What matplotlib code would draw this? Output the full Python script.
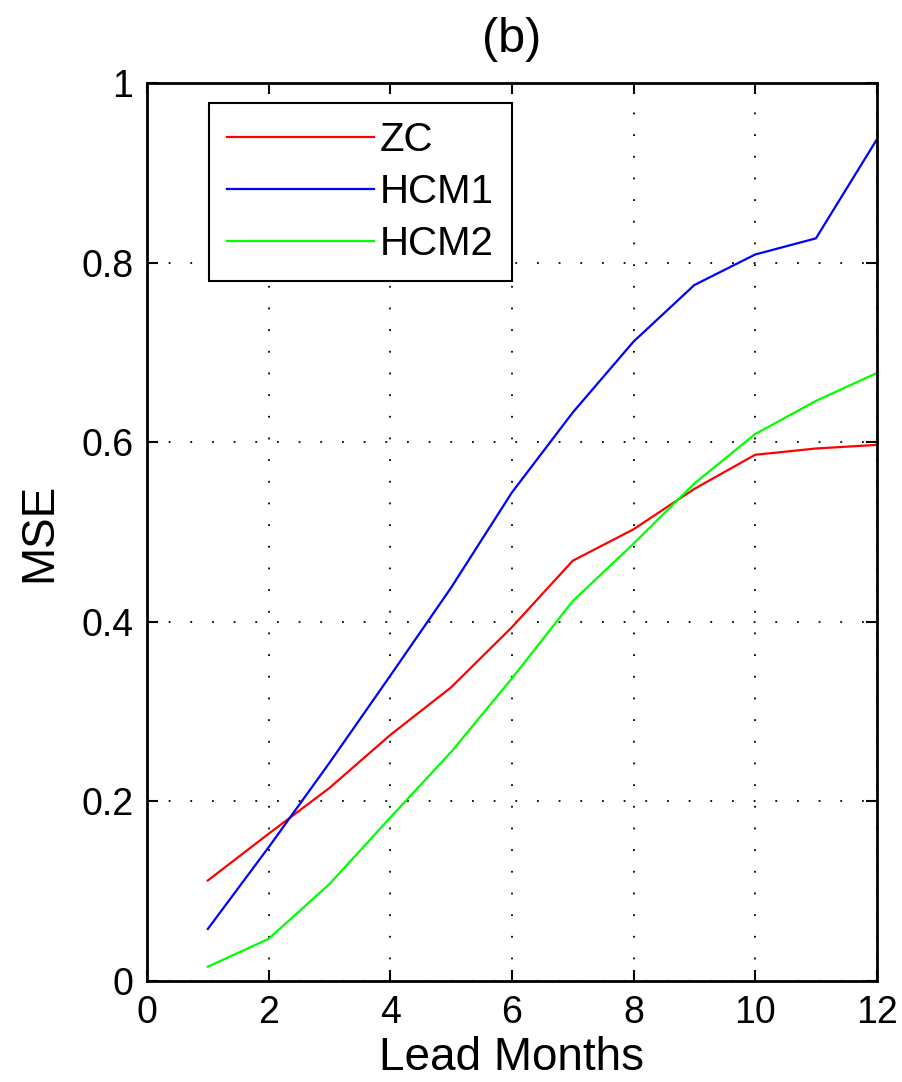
import numpy as np
import matplotlib
matplotlib.use('Agg')
import matplotlib.pyplot as plt

plt.rcParams['font.family'] = ['Liberation Sans', 'DejaVu Sans']

lead_months = [1, 2, 3, 4, 5, 6, 7, 8, 9, 10, 11, 12]
mse_zc = [0.112, 0.164, 0.215, 0.274, 0.327, 0.394, 0.468, 0.503, 0.548, 0.586, 0.593, 0.597]
mse_hcm1 = [0.058, 0.149, 0.243, 0.340, 0.438, 0.544, 0.633, 0.712, 0.775, 0.809, 0.827, 0.937]
mse_hcm2 = [0.016, 0.047, 0.108, 0.182, 0.255, 0.337, 0.423, 0.487, 0.554, 0.609, 0.646, 0.677]

fig = plt.figure(figsize=(9.02, 10.82), dpi=100)
ax = fig.add_axes([0.163, 0.0933, 0.809, 0.830])

ax.plot(lead_months, mse_zc, color='#ff0000', linewidth=1.6, label='ZC')
ax.plot(lead_months, mse_hcm1, color='#0000ff', linewidth=1.6, label='HCM1')
ax.plot(lead_months, mse_hcm2, color='#00ff00', linewidth=1.6, label='HCM2')

ax.set_xlim(0, 12)
ax.set_ylim(0, 1)
ax.set_xticks(np.arange(0, 13, 2))
ax.set_yticks([0, 0.2, 0.4, 0.6, 0.8, 1])
ax.set_yticklabels(['0', '0.2', '0.4', '0.6', '0.8', '1'])
ax.tick_params(direction='in', length=8, width=1.5, labelsize=27,
               top=True, right=True, pad=10)
ax.grid(True, color='black', linestyle=(0, (1, 11)), linewidth=1.3)
for s in ax.spines.values():
    s.set_linewidth(2)

ax.set_xlabel('Lead Months', fontsize=33, labelpad=4)
ax.set_ylabel('MSE', fontsize=33, labelpad=14)
ax.set_title('(b)', fontsize=35, pad=22)

leg = ax.legend(loc='upper left', bbox_to_anchor=(0.085, 0.978), fontsize=29,
                handlelength=3.65, handletextpad=0.15, fancybox=False,
                edgecolor='black', framealpha=1, borderpad=0.45,
                labelspacing=0.35, borderaxespad=0)
leg.get_frame().set_linewidth(1.5)

fig.savefig('out.png', dpi=100)
